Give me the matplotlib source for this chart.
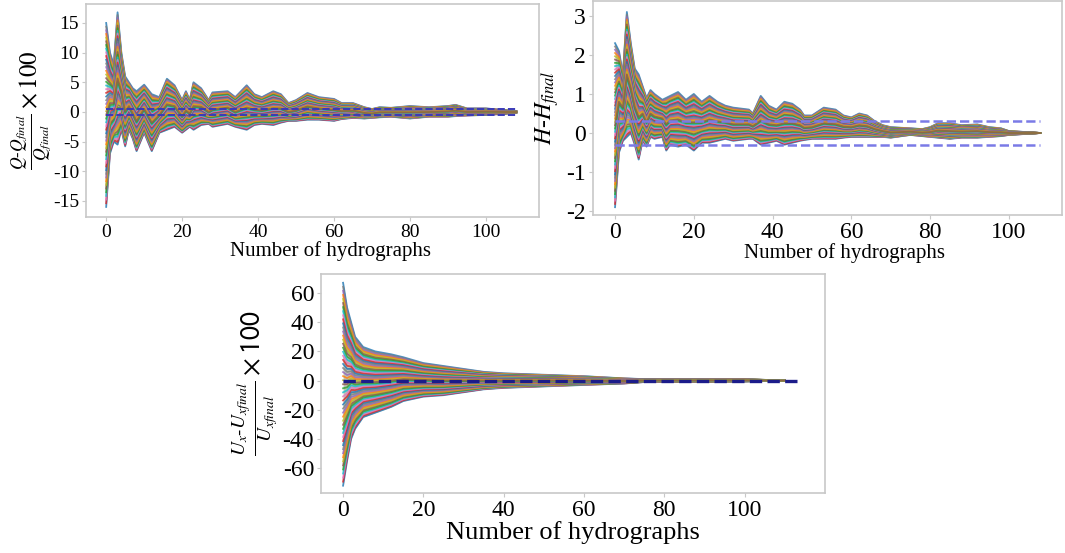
import matplotlib.pyplot as plt
import numpy as np

plt.rcParams['font.family'] = ['Liberation Serif', 'DejaVu Serif']
plt.rcParams['mathtext.fontset'] = 'stix'
plt.rcParams['axes.unicode_minus'] = False

# --- panel 1: (Q - Qfinal)/Qfinal x 100, envelope of all hydrograph runs ---
q_x = [0, 1, 2, 3, 4, 5, 6, 7, 8, 10, 12, 14, 16, 18, 20, 21, 22, 23, 25, 27, 28, 32, 34, 37,
       39, 41, 44, 46, 48, 50, 53, 56, 60, 62, 65, 68, 70, 72, 75, 80, 85, 90, 92, 95, 100, 105, 108]
q_upper = [15, 10, 8, 16.8, 10, 6, 5, 4, 3.5, 4.6, 3, 2.5, 5.6, 4.5, 2, 3.5, 2, 5, 4, 2, 3.3, 3.5, 2.5, 4.5,
           3, 2.5, 3.5, 3, 1.5, 2, 3.2, 2.5, 2.2, 1.5, 1.5, 0.8, 0.5, 0.8, 0.7, 1, 0.8, 1, 1.2, 0.6, 0.6, 0.3, 0.1]
q_lower = [-16, -7, -5, -5.5, -3, -5.8, -3, -4.5, -6.6, -3.5, -6.6, -3.5, -3, -2.5, -3.5, -3, -2.5, -3, -2.2, -2,
           -2.5, -2, -2.5, -3, -2.2, -2, -2.2, -1.8, -1.5, -1.5, -1.3, -1.3, -1.5, -1.2, -1, -1.1, -1, -0.9,
           -0.8, -1.1, -0.8, -0.8, -0.7, -0.6, -0.5, -0.3, -0.1]
q_band = 0.5

# --- panel 2: H - Hfinal ---
h_x = [0, 1, 2, 3, 4, 5, 6, 7, 8, 9, 10, 12, 13, 14, 16, 18, 20, 22, 24, 26, 28, 30, 34, 35, 37, 39, 41,
       43, 45, 47, 48, 50, 53, 56, 58, 60, 62, 64, 66, 68, 70, 75, 78, 80, 82, 85, 88, 92, 95, 98, 100, 105, 108]
h_upper = [2.3, 2.1, 1.5, 3.1, 2.3, 1.65, 1.5, 1.2, 0.9, 1.1, 1.0, 0.85, 0.9, 0.95, 1.05, 0.85, 1.0, 0.8, 0.95,
           0.8, 0.7, 0.65, 0.6, 0.5, 0.95, 0.7, 0.6, 0.8, 0.75, 0.6, 0.45, 0.45, 0.65, 0.6, 0.45, 0.4, 0.5,
           0.45, 0.3, 0.2, 0.15, 0.12, 0.1, 0.15, 0.25, 0.25, 0.2, 0.22, 0.15, 0.12, 0.05, 0.02, 0.0]
h_lower = [-1.9, -0.5, -0.2, -0.1, 0.0, -0.3, -0.68, -0.2, -0.35, -0.1, -0.15, -0.1, -0.45, -0.3, -0.35, -0.3,
           -0.45, -0.25, -0.25, -0.2, -0.15, -0.2, -0.15, -0.15, -0.3, -0.25, -0.2, -0.3, -0.25, -0.2, -0.18,
           -0.15, -0.15, -0.15, -0.12, -0.1, -0.1, -0.1, -0.1, -0.1, -0.12, -0.05, -0.08, -0.1, -0.12, -0.15,
           -0.12, -0.12, -0.1, -0.08, -0.05, -0.02, 0.0]
h_band = 0.3

# --- panel 3: (Ux - Uxfinal)/Uxfinal x 100 ---
u_x = [0, 1, 2, 3, 5, 8, 10, 12, 15, 20, 25, 30, 35, 40, 50, 60, 70, 75, 80, 90, 100, 105, 110]
u_upper = [67, 50, 40, 30, 23, 20, 19, 18, 16, 12, 10, 8, 6, 5, 4, 3, 1.5, 1, 1, 1, 1, 0.5, 0]
u_lower = [-72, -55, -40, -33, -25, -22, -20, -18, -14, -11, -10, -8, -6, -5, -4, -3, -2, -1, -0.8, -0.8,
           -0.6, -0.3, 0]

# position of each drawn run inside the envelope (0 = lower edge, 1 = upper edge)
run_levels = [0.0, 0.02, 0.04, 0.06, 0.08, 0.1, 0.12, 0.14, 0.16, 0.18, 0.2, 0.22, 0.24, 0.26, 0.28,
              0.3, 0.32, 0.34, 0.36, 0.38, 0.4, 0.42, 0.44, 0.46, 0.48, 0.5, 0.52, 0.54, 0.56, 0.58,
              0.6, 0.62, 0.64, 0.66, 0.68, 0.7, 0.72, 0.74, 0.76, 0.78, 0.8, 0.82, 0.84, 0.86, 0.88,
              0.9, 0.92, 0.94, 0.96, 0.98, 1.0]

colors = ['#1f77b4', '#ff7f0e', '#2ca02c', '#d62728', '#9467bd', '#8c564b', '#e377c2',
          '#7f7f7f', '#bcbd22', '#17becf']

fig = plt.figure(figsize=(10.65, 5.53), dpi=100)


def fan(ax, xs, lo, hi):
    xs = np.array(xs, dtype=float)
    lo = np.array(lo, dtype=float)
    hi = np.array(hi, dtype=float)
    ax.fill_between(xs, lo, hi, color='#7f8a6a', alpha=0.5, lw=0)
    # draw outer runs first so the edges get mixed colours
    order = sorted(range(len(run_levels)), key=lambda k: -abs(run_levels[k] - 0.5))
    for i in order:
        f = run_levels[i]
        ax.plot(xs, lo + f * (hi - lo), color=colors[(i * 3) % len(colors)], lw=1.3, alpha=0.8)


def style(ax, tick_size, label_size, label_x=0.5, label_pad=0):
    for s in ax.spines.values():
        s.set_color('#c8c8c8')
        s.set_linewidth(1.2)
    ax.tick_params(length=3, color='#c8c8c8', labelsize=tick_size, pad=2)
    ax.set_xlabel('Number of hydrographs', fontsize=label_size, labelpad=label_pad)
    ax.xaxis.label.set_x(label_x)
    ax.set_xticks([0, 20, 40, 60, 80, 100])


# panel 1
ax1 = fig.add_axes([0.0808, 0.6076, 0.4254, 0.3852])
fan(ax1, q_x, q_lower, q_upper)
ax1.plot([0, 108], [q_band, q_band], ls='--', color='#3a3ab8', lw=1.4)
ax1.plot([0, 108], [-q_band, -q_band], ls='--', color='#3a3ab8', lw=1.4)
ax1.set_xlim(-5.3, 114)
ax1.set_ylim(-17.7, 18.2)
ax1.set_yticks([-15, -10, -5, 0, 5, 10, 15])
style(ax1, 14, 15, label_x=0.54)
ax1.set_ylabel(r'$\frac{Q\text{-}Q_{final}}{Q_{final}}\times100$', fontsize=18)
ax1.yaxis.set_label_coords(-0.07, 0.5)

# panel 2
ax2 = fig.add_axes([0.5568, 0.6112, 0.4404, 0.387])
fan(ax2, h_x, h_lower, h_upper)
ax2.plot([0, 108], [h_band, h_band], ls='--', color='#7a7ae6', lw=1.8)
ax2.plot([0, 108], [-h_band, -h_band], ls='--', color='#7a7ae6', lw=1.8)
ax2.set_xlim(-5.6, 113.5)
ax2.set_ylim(-2.1, 3.38)
ax2.set_yticks([-2, -1, 0, 1, 2, 3])
style(ax2, 17, 15, label_x=0.537, label_pad=0)
ax2.set_ylabel(r'$H$-$H_{final}$', fontsize=17, labelpad=4)

# panel 3
ax3 = fig.add_axes([0.3014, 0.1085, 0.4732, 0.396])
fan(ax3, u_x, u_lower, u_upper)
ax3.plot([0, 113], [0, 0], ls='--', color='#1c1c8a', lw=2.4)
ax3.set_xlim(-5.5, 120)
ax3.set_ylim(-77, 73)
ax3.set_yticks([-60, -40, -20, 0, 20, 40, 60])
style(ax3, 17, 19)
ax3.set_ylabel(r'$\frac{U_x\text{-}U_{xfinal}}{U_{xfinal}}\times\mathsf{100}$', fontsize=20, labelpad=2)

fig.savefig('out.png', dpi=100)
